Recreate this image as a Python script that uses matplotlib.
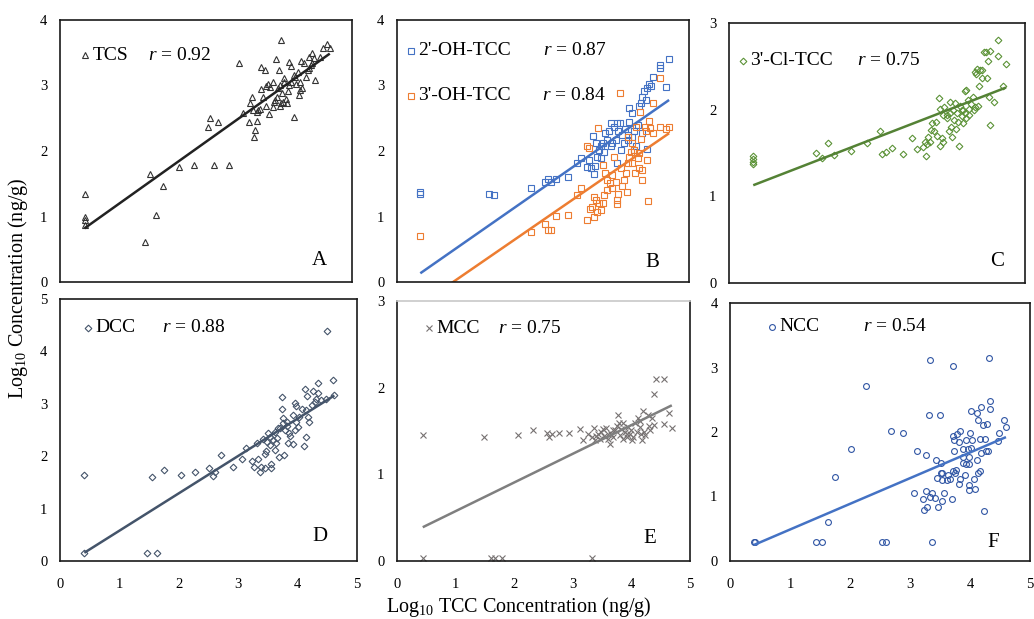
import matplotlib
matplotlib.use("Agg")
import matplotlib.pyplot as plt
import numpy as np

plt.rcParams["font.family"] = ["Liberation Serif", "DejaVu Serif"]
plt.rcParams["mathtext.fontset"] = "custom"
plt.rcParams["mathtext.rm"] = "Liberation Serif"
plt.rcParams["mathtext.it"] = "Liberation Serif:italic"

# ---- data: log10 TCC (x) vs log10 metabolite concentration (y) ----
tcs_x = [0.42, 0.42, 0.42, 0.42, 1.45, 1.55, 1.65, 1.76, 2.04, 2.30, 2.63, 2.90,
         2.53, 2.57, 2.70, 3.07, 3.33, 3.34, 3.37, 3.23, 3.13, 3.25, 3.28, 3.42,
         3.45, 3.44, 3.51, 3.53, 3.58, 3.64, 3.70, 3.75, 3.79, 3.65, 3.69, 3.80,
         3.83, 3.90, 3.93, 4.01, 3.96, 4.04, 4.10, 4.12, 4.17, 4.21, 4.26, 4.31,
         4.35, 4.36, 4.46, 4.50, 4.57, 4.62, 4.11, 3.89, 3.82, 3.76, 3.52, 3.56,
         3.60, 3.73, 3.87, 3.96, 4.00, 4.07, 4.24, 4.26, 4.29, 4.32, 3.48, 3.39,
         3.31, 3.37, 3.66, 3.79, 3.84, 3.92, 4.15, 3.76, 4.11, 4.02, 3.71]
tcs_y = [1.35, 0.99, 0.94, 0.87, 0.61, 1.65, 1.03, 1.46, 1.76, 1.79, 1.79, 1.79,
         2.37, 2.50, 2.45, 3.34, 2.22, 2.32, 2.46, 2.45, 2.58, 2.73, 2.83, 2.64,
         2.94, 3.29, 3.23, 2.68, 2.56, 3.06, 3.40, 3.23, 3.69, 2.67, 2.78, 2.88,
         3.06, 2.91, 3.36, 2.52, 3.30, 3.03, 2.85, 3.37, 3.34, 3.13, 3.44, 3.49,
         3.42, 3.09, 3.43, 3.57, 3.63, 3.57, 3.06, 2.73, 2.75, 2.68, 2.99, 3.03,
         2.98, 2.96, 2.80, 3.06, 3.16, 3.21, 3.24, 3.26, 3.31, 3.34, 2.83, 2.63,
         2.63, 2.60, 2.75, 2.73, 3.11, 3.01, 2.96, 3.01, 2.93, 3.13, 2.83]

oh2_x = [0.40, 0.40, 1.58, 1.66, 2.29, 2.54, 2.59, 2.63, 2.73, 2.93, 3.08, 3.16,
         3.26, 3.29, 3.33, 3.37, 3.39, 3.43, 3.46, 3.49, 3.53, 3.57, 3.63, 3.67,
         3.72, 3.76, 3.79, 3.82, 3.75, 3.86, 3.90, 3.95, 3.97, 3.98, 4.03, 4.03,
         4.06, 4.09, 4.15, 4.18, 4.19, 4.23, 4.28, 4.31, 4.38, 4.50, 4.51, 4.66,
         4.60, 4.29, 4.20, 4.06, 3.83, 3.77, 3.55, 3.49, 3.60, 3.69, 3.89, 3.96,
         3.36, 3.40, 4.12, 4.26, 4.35, 3.66]
oh2_y = [1.38, 1.35, 1.35, 1.33, 1.44, 1.53, 1.58, 1.52, 1.57, 1.61, 1.81, 1.90,
         1.76, 1.86, 1.74, 1.65, 1.77, 1.91, 2.02, 1.89, 2.12, 2.27, 2.30, 2.43,
         2.37, 2.43, 2.30, 2.43, 2.17, 2.24, 2.33, 2.24, 2.45, 2.65, 2.58, 2.22,
         2.30, 2.07, 2.69, 2.73, 2.83, 2.91, 2.96, 3.03, 3.13, 3.26, 3.31, 3.40,
         2.97, 2.03, 2.27, 2.02, 2.02, 1.82, 1.99, 2.07, 2.17, 2.12, 2.12, 2.17,
         2.23, 2.12, 2.40, 2.78, 2.99, 2.07]

oh3_x = [0.40, 2.29, 2.54, 2.58, 2.63, 2.73, 2.93, 3.09, 3.16, 3.26, 3.29, 3.30,
         3.34, 3.37, 3.40, 3.43, 3.46, 3.49, 3.52, 3.55, 3.53, 3.44, 3.56, 3.60,
         3.65, 3.69, 3.72, 3.75, 3.77, 3.77, 3.79, 3.82, 3.83, 3.86, 3.89, 3.94,
         3.93, 3.96, 3.97, 4.00, 4.03, 4.06, 4.08, 4.09, 4.12, 4.15, 4.16, 4.18,
         4.20, 4.20, 4.24, 4.26, 4.29, 4.30, 4.32, 4.34, 4.38, 4.38, 4.51, 4.51,
         4.60, 4.66, 3.26, 3.37, 3.60, 3.69, 3.95, 4.03, 4.15]
oh3_y = [0.71, 0.77, 0.89, 0.80, 0.80, 1.01, 1.03, 1.33, 1.44, 2.08, 2.04, 1.12,
         1.15, 0.99, 1.25, 1.07, 1.20, 1.10, 1.21, 1.33, 1.79, 2.35, 1.66, 1.56,
         1.51, 1.63, 1.91, 1.53, 1.25, 1.19, 1.35, 2.89, 1.74, 1.46, 1.56, 1.38,
         1.66, 2.22, 1.91, 1.99, 1.81, 2.02, 1.66, 2.37, 1.90, 1.74, 2.60, 2.18,
         1.56, 1.71, 2.37, 2.30, 1.87, 1.24, 2.46, 2.35, 2.73, 2.27, 3.12, 2.36,
         2.33, 2.36, 0.94, 1.30, 1.40, 1.43, 1.81, 2.12, 1.97]

cl_x = [0.41, 0.41, 0.41, 0.41, 1.47, 1.57, 1.67, 1.77, 2.06, 2.33, 2.55, 2.59,
        2.65, 2.75, 2.94, 3.09, 3.18, 3.27, 3.31, 3.32, 3.35, 3.37, 3.40, 3.41,
        3.43, 3.47, 3.49, 3.51, 3.54, 3.56, 3.57, 3.59, 3.62, 3.64, 3.68, 3.71,
        3.73, 3.75, 3.77, 3.78, 3.80, 3.82, 3.83, 3.85, 3.87, 3.88, 3.90, 3.93,
        3.95, 3.96, 3.99, 4.00, 4.01, 4.04, 4.06, 4.08, 4.12, 4.14, 4.16, 4.17,
        4.19, 4.21, 4.23, 4.24, 4.27, 4.28, 4.31, 4.34, 4.36, 4.37, 4.40, 4.41,
        4.41, 4.47, 4.54, 4.55, 4.63, 4.68, 3.93, 3.99, 4.06, 4.16, 3.73, 3.68,
        3.61]
cl_y = [1.46, 1.43, 1.40, 1.37, 1.50, 1.44, 1.62, 1.48, 1.52, 1.62, 1.75, 1.49,
        1.51, 1.56, 1.49, 1.67, 1.55, 1.57, 1.63, 1.47, 1.60, 1.69, 1.63, 1.77,
        1.85, 1.75, 1.86, 1.70, 2.14, 2.01, 1.58, 1.67, 1.63, 2.03, 1.94, 1.75,
        2.09, 1.80, 1.69, 2.00, 1.88, 2.08, 1.78, 1.96, 1.86, 1.58, 2.04, 1.93,
        1.85, 2.00, 2.22, 1.90, 2.23, 2.11, 2.01, 2.07, 2.15, 2.00, 2.44, 2.41,
        2.47, 2.04, 2.27, 2.46, 2.46, 2.36, 2.66, 2.66, 2.36, 2.56, 2.15, 2.68,
        1.82, 2.09, 2.80, 2.62, 2.27, 2.53, 2.00, 1.96, 1.94, 2.03, 1.96, 1.90,
        1.94]

dcc_x = [0.41, 0.41, 1.46, 1.63, 1.55, 1.75, 2.03, 2.28, 2.51, 2.57, 2.61, 2.71,
         2.91, 3.07, 3.14, 3.24, 3.27, 3.31, 3.33, 3.36, 3.38, 3.41, 3.45, 3.45,
         3.47, 3.51, 3.54, 3.55, 3.56, 3.58, 3.62, 3.64, 3.66, 3.69, 3.70, 3.73,
         3.73, 3.75, 3.77, 3.79, 3.82, 3.84, 3.86, 3.88, 3.92, 3.93, 3.95, 3.96,
         3.97, 3.98, 4.01, 4.03, 4.07, 4.11, 4.12, 4.14, 4.15, 4.16, 4.18, 4.20,
         4.24, 4.26, 4.29, 4.31, 4.35, 4.35, 4.39, 4.50, 4.48, 4.59, 4.62, 3.76,
         3.83, 3.67, 3.62, 3.54, 3.48]
dcc_y = [1.64, 0.15, 0.15, 0.15, 1.60, 1.73, 1.64, 1.69, 1.77, 1.63, 1.69, 2.02,
         1.79, 1.95, 2.15, 1.91, 1.80, 2.25, 1.95, 1.69, 1.79, 2.33, 1.77, 2.04,
         2.09, 2.45, 2.21, 1.86, 1.78, 2.31, 2.12, 2.25, 2.34, 1.99, 2.54, 3.12,
         2.91, 2.72, 2.02, 2.50, 2.58, 2.26, 2.44, 2.39, 2.23, 2.78, 3.01, 2.50,
         2.95, 2.66, 2.56, 2.75, 2.90, 2.19, 3.28, 2.88, 2.37, 3.15, 2.75, 2.66,
         2.98, 3.25, 3.04, 3.10, 3.40, 3.20, 3.07, 4.38, 3.10, 3.45, 3.17, 2.63,
         2.66, 2.53, 2.47, 2.37, 2.28]

mcc_x = [0.44, 0.44, 1.49, 1.61, 1.68, 1.79, 2.07, 2.32, 2.56, 2.60, 2.65, 2.76,
         2.94, 3.12, 3.17, 3.33, 3.26, 3.32, 3.36, 3.38, 3.43, 3.46, 3.49, 3.53,
         3.57, 3.60, 3.63, 3.66, 3.69, 3.72, 3.75, 3.77, 3.79, 3.80, 3.83, 3.86,
         3.89, 3.92, 3.95, 3.97, 4.00, 4.03, 4.06, 4.09, 4.12, 4.15, 4.18, 4.20,
         4.22, 4.24, 4.28, 4.30, 4.35, 4.38, 4.39, 4.42, 4.55, 4.55, 4.65, 4.69,
         3.85, 3.69, 3.93, 4.01, 4.17, 4.32, 3.52, 3.60, 3.40, 4.15]
mcc_y = [1.45, 0.04, 1.43, 0.04, 0.04, 0.04, 1.45, 1.51, 1.48, 1.43, 1.47, 1.48,
         1.48, 1.52, 1.40, 0.04, 1.47, 1.43, 1.53, 1.40, 1.47, 1.41, 1.49, 1.44,
         1.53, 1.41, 1.35, 1.47, 1.43, 1.51, 1.56, 1.68, 1.59, 1.45, 1.52, 1.41,
         1.49, 1.43, 1.55, 1.46, 1.51, 1.43, 1.59, 1.49, 1.65, 1.55, 1.40, 1.73,
         1.49, 1.45, 1.68, 1.56, 1.65, 1.57, 1.93, 2.10, 2.10, 1.58, 1.71, 1.54,
         1.59, 1.51, 1.47, 1.40, 1.47, 1.51, 1.52, 1.47, 1.44, 1.62]

ncc_x = [0.40, 0.42, 1.43, 1.54, 1.63, 1.75, 2.02, 2.27, 2.54, 2.60, 2.69, 2.89,
         3.06, 3.12, 3.21, 3.23, 3.26, 3.27, 3.29, 3.31, 3.33, 3.34, 3.37, 3.37,
         3.42, 3.44, 3.45, 3.46, 3.50, 3.51, 3.51, 3.53, 3.54, 3.57, 3.61, 3.64,
         3.67, 3.70, 3.71, 3.72, 3.73, 3.74, 3.75, 3.77, 3.78, 3.81, 3.82, 3.83,
         3.84, 3.89, 3.92, 3.93, 3.94, 3.96, 3.98, 3.99, 3.99, 3.99, 4.00, 4.01,
         4.02, 4.04, 4.07, 4.08, 4.11, 4.12, 4.14, 4.14, 4.16, 4.17, 4.18, 4.19,
         4.21, 4.24, 4.25, 4.27, 4.28, 4.30, 4.31, 4.33, 4.33, 4.47, 4.49, 4.56,
         4.60, 3.89, 3.72, 3.53, 3.88]
ncc_y = [0.29, 0.29, 0.29, 0.29, 0.61, 1.30, 1.74, 2.71, 0.29, 0.29, 2.02, 1.99,
         1.06, 1.71, 0.96, 0.79, 1.65, 1.09, 0.84, 2.26, 0.99, 3.11, 1.06, 0.29,
         0.97, 1.57, 1.28, 0.84, 2.26, 1.52, 1.37, 0.93, 1.26, 1.05, 1.26, 1.33,
         1.27, 0.96, 3.03, 1.94, 1.87, 1.70, 1.37, 1.41, 1.97, 1.19, 1.84, 2.01,
         1.27, 1.52, 1.33, 1.88, 1.51, 1.73, 1.62, 1.50, 1.18, 1.10, 1.99, 1.75,
         2.32, 1.88, 1.27, 1.11, 1.56, 2.30, 1.36, 2.19, 1.89, 1.39, 1.67, 2.39,
         2.11, 0.78, 1.89, 1.70, 2.12, 1.70, 3.15, 2.48, 2.35, 1.86, 1.98, 2.18,
         2.07, 1.73, 1.39, 1.37, 1.62]

# linear fits (slope, intercept) and reported correlation coefficients
fit_tcs, r_tcs = (0.635, 0.553), 0.92
fit_oh2, r_oh2 = (0.621, -0.115), 0.87
fit_oh3, r_oh3 = (0.614, -0.590), 0.84
fit_cl, r_cl = (0.264, 1.020), 0.75
fit_dcc, r_dcc = (0.713, -0.135), 0.88
fit_mcc, r_mcc = (0.331, 0.244), 0.75
fit_ncc, r_ncc = (0.398, 0.090), 0.54

fig = plt.figure(figsize=(10.34, 6.19), dpi=100)

ax_a = fig.add_axes([0.058, 0.5444, 0.2824, 0.4233])
ax_b = fig.add_axes([0.3839, 0.5444, 0.2824, 0.4233])
ax_c = fig.add_axes([0.7050, 0.5428, 0.2863, 0.4200])
ax_d = fig.add_axes([0.058, 0.0937, 0.2872, 0.4233])
ax_e = fig.add_axes([0.3839, 0.0937, 0.2834, 0.4200])
ax_f = fig.add_axes([0.7060, 0.0937, 0.2901, 0.4168])


def setup(ax, ymax, xmax, letter, letter_pos, show_x):
    ax.set_xlim(0, xmax)
    ax.set_ylim(0, ymax)
    ax.set_yticks(range(0, ymax + 1))
    ax.set_xticks(range(0, 6))
    ax.tick_params(length=0, labelsize=10.5, pad=9)
    ax.tick_params(axis="x", pad=12)
    if not show_x:
        ax.set_xticklabels([])
    for sp in ax.spines.values():
        sp.set_linewidth(1.2)
        sp.set_color("#1a1a1a")
    ax.text(letter_pos[0], letter_pos[1], letter, transform=ax.transAxes,
            fontsize=15, ha="center", va="center")


def series(ax, x, y, fit, marker, color, ms, line_color=None, mew=0.8):
    x = np.asarray(x)
    y = np.asarray(y)
    if marker == "x":
        ax.plot(x, y, ls="none", marker="x", ms=ms, color=color, mew=mew)
    else:
        ax.plot(x, y, ls="none", marker=marker, ms=ms, mfc="none",
                mec=color, mew=mew)
    xs = np.array([x.min(), x.max()])
    ax.plot(xs, fit[0] * xs + fit[1], color=line_color or color, lw=1.8,
            solid_capstyle="butt")


def key(ax, pos, marker, color, ms, name, rpos, r, mew=0.8):
    if marker == "x":
        ax.plot([pos[0]], [pos[1]], ls="none", marker="x", ms=ms, color=color,
                mew=mew, transform=ax.transAxes, clip_on=False)
    else:
        ax.plot([pos[0]], [pos[1]], ls="none", marker=marker, ms=ms,
                mfc="none", mec=color, mew=mew, transform=ax.transAxes,
                clip_on=False)
    ax.text(pos[0] + 0.025, pos[1], name, transform=ax.transAxes,
            fontsize=14, va="center", ha="left")
    ax.text(rpos, pos[1], r"$\it{r}$" + " = %.2f" % r, transform=ax.transAxes,
            fontsize=14, va="center", ha="left")


# A: TCS
series(ax_a, tcs_x, tcs_y, fit_tcs, "^", "#333333", 4.2, line_color="#222222")
setup(ax_a, 4, 4.92, "A", (0.89, 0.084), False)
key(ax_a, (0.086, 0.866), "^", "#333333", 4.2, "TCS", 0.30, r_tcs)

# B: 2'-OH-TCC and 3'-OH-TCC
series(ax_b, oh2_x, oh2_y, fit_oh2, "s", "#4472C4", 4.6)
series(ax_b, oh3_x, oh3_y, fit_oh3, "s", "#ED7D31", 4.6)
setup(ax_b, 4, 5, "B", (0.873, 0.076), False)
key(ax_b, (0.048, 0.882), "s", "#4472C4", 4.6, "2'-OH-TCC", 0.50, r_oh2)
key(ax_b, (0.048, 0.71), "s", "#ED7D31", 4.6, "3'-OH-TCC", 0.497, r_oh3)

# C: 3'-Cl-TCC
series(ax_c, cl_x, cl_y, fit_cl, "D", "#5B9236", 3.4, line_color="#548235")
setup(ax_c, 3, 5, "C", (0.905, 0.081), False)
key(ax_c, (0.047, 0.854), "D", "#5B9236", 3.4, "3'-Cl-TCC", 0.432, r_cl)

# D: DCC
series(ax_d, dcc_x, dcc_y, fit_dcc, "D", "#44546A", 3.4)
setup(ax_d, 5, 5, "D", (0.875, 0.092), True)
key(ax_d, (0.094, 0.89), "D", "#44546A", 3.4, "DCC", 0.343, r_dcc)

# E: MCC
series(ax_e, mcc_x, mcc_y, fit_mcc, "x", "#767171", 5, line_color="#7F7F7F")
setup(ax_e, 3, 5, "E", (0.863, 0.088), True)
ax_e.spines["top"].set_color("#c8c8c8")
key(ax_e, (0.109, 0.896), "x", "#767171", 4, "MCC", 0.345, r_mcc)

# F: NCC
series(ax_f, ncc_x, ncc_y, fit_ncc, "o", "#2F55A4", 4.2, line_color="#4472C4")
setup(ax_f, 4, 5, "F", (0.877, 0.07), True)
key(ax_f, (0.14, 0.907), "o", "#2F55A4", 4.2, "NCC", 0.443, r_ncc)

fig.text(0.017, 0.535, "Log$_{10}$ Concentration (ng/g)", rotation=90,
         fontsize=14.5, ha="center", va="center")
fig.text(0.502, 0.019, "Log$_{10}$ TCC Concentration (ng/g)",
         fontsize=14.5, ha="center", va="center")

fig.savefig("out.png", dpi=100)
